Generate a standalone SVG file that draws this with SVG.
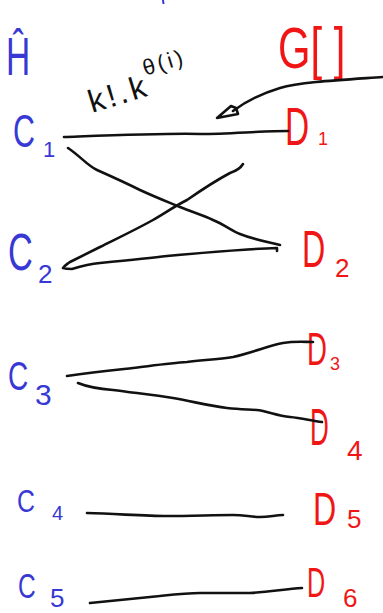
<svg xmlns="http://www.w3.org/2000/svg" width="383" height="613" viewBox="0 0 383 613">
<style>
text{font-family:"Liberation Sans",Arial,sans-serif;}
.b{fill:#3838d4;}
.r{fill:#f01616;}
.k{fill:#111;}
.ln{fill:none;stroke:#111;stroke-width:2.6;stroke-linecap:round;stroke-linejoin:round;}
</style>
<rect width="383" height="613" fill="#fff"/>
<line x1="163" y1="0" x2="163.5" y2="4" stroke="#3838d4" stroke-width="2"/>
<g id="Hhat"><text class="b" transform="translate(6,75) scale(0.62,1)" font-size="54">Ĥ</text></g>
<g id="G"><text class="r" transform="translate(278,68) scale(0.72,1)" font-size="58">G[ ]</text></g>
<g id="label"><text class="k" transform="translate(92,113) rotate(-17)" font-size="32" letter-spacing="3">k!.k<tspan font-size="22" dy="-20" letter-spacing="3">θ(i)</tspan></text></g>
<g id="C1"><text class="b" transform="translate(13,147) scale(0.66,1)" font-size="46">C</text><text class="b" x="43" y="157" font-size="22">1</text></g>
<g id="C2"><text class="b" transform="translate(8,270) scale(0.66,1)" font-size="52">C</text><text class="b" x="38" y="283" font-size="26">2</text></g>
<g id="C3"><text class="b" transform="translate(8,390) scale(0.7,1)" font-size="40">C</text><text class="b" x="35" y="405" font-size="30">3</text></g>
<g id="C4"><text class="b" transform="translate(17,512) scale(0.8,1)" font-size="31">C</text><text class="b" x="52" y="520" font-size="20">4</text></g>
<g id="C5"><text class="b" transform="translate(18,598) scale(0.7,1)" font-size="35">C</text><text class="b" x="50" y="607" font-size="26">5</text></g>
<g id="D1"><text class="r" transform="translate(285,145) scale(0.62,1)" font-size="54">D</text><text class="r" x="318" y="145" font-size="18">1</text></g>
<g id="D2"><text class="r" transform="translate(302,267) scale(0.62,1)" font-size="52">D</text><text class="r" x="335" y="277" font-size="26">2</text></g>
<g id="D3"><text class="r" transform="translate(307,365) scale(0.6,1)" font-size="46">D</text><text class="r" x="330" y="370" font-size="18">3</text></g>
<g id="D4"><text class="r" transform="translate(310,445) scale(0.5,1)" font-size="52">D</text><text class="r" x="347" y="460" font-size="28">4</text></g>
<g id="D5"><text class="r" transform="translate(313,525) scale(0.7,1)" font-size="46">D</text><text class="r" x="347" y="528" font-size="26">5</text></g>
<g id="D6"><text class="r" transform="translate(307,597) scale(0.6,1)" font-size="42">D</text><text class="r" x="343" y="607" font-size="26">6</text></g>
<g id="connectors">
<path class="ln" d="M383,77 C340,80 300,82 280,88 C260,94 245,102 233,111"/>
<path class="ln" d="M231,106 L217,118 L238,114 L236,108 Z"/>
<path class="ln" d="M64,137 C120,135 170,133 200,134 C230,134 260,131 288,131"/>
<path class="ln" d="M68,148 C80,156 88,166 97,170 C115,178 128,184 140,190 C155,197 168,202 180,207 C195,213 205,216 213,220 C225,225 232,231 240,234 C255,240 268,242 280,245"/>
<path class="ln" d="M243,164 C240,169 236,171 230,173 C215,181 200,191 187,200 C175,206 165,213 153,220 C135,230 118,238 100,247 C88,253 78,258 70,262 C66,265 64,266 63,268 C66,269 68,269 72,269 C82,266 90,264 100,263 C130,260 150,258 167,256 C210,252 245,249 277,248 L277,251"/>
<path class="ln" d="M67,376 C95,372 115,370 133,368 C150,366 170,363 187,362 C205,360 220,359 233,357 C255,352 270,345 283,343 C295,341 305,342 313,342"/>
<path class="ln" d="M78,383 C90,388 100,389 113,390 C135,393 155,395 173,398 C195,402 210,406 227,408 C245,410 255,409 263,411 C275,414 280,416 290,417 C302,418 312,421 322,422"/>
<path class="ln" d="M87,513 C120,514 145,516 167,516 C190,516 215,515 233,515 C245,515 250,517 260,517 C270,517 275,515 283,515"/>
<path class="ln" d="M90,603 C110,601 130,599 150,597 C170,595 185,593 200,593 C220,593 235,593 250,593 C270,592 285,589 302,588"/>
</g>
</svg>
